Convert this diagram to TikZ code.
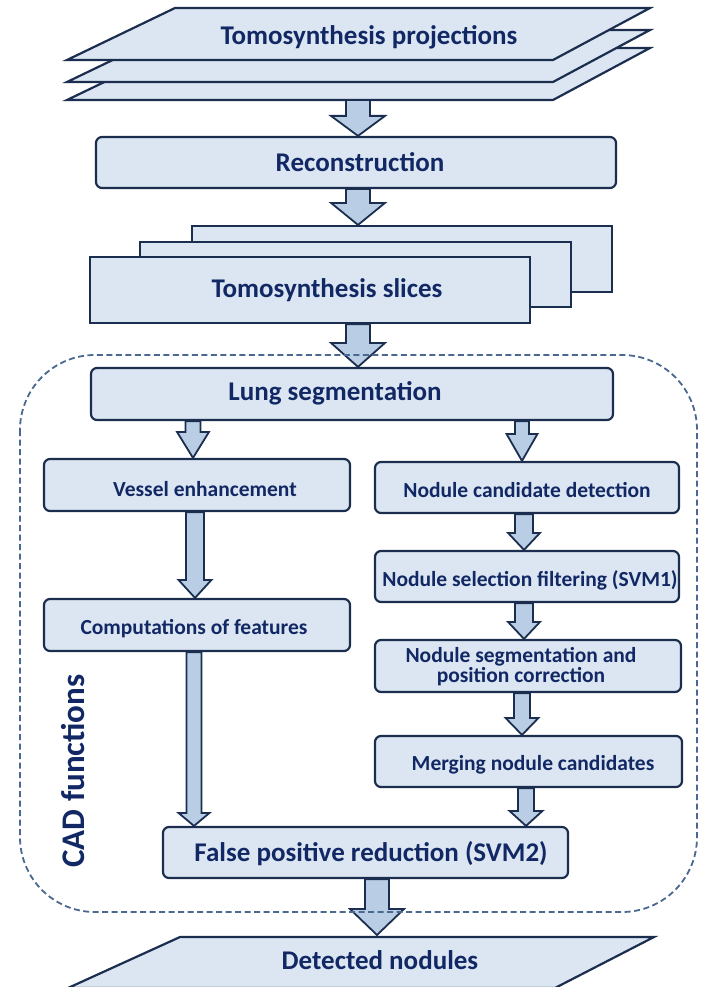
\documentclass[tikz,border=0pt]{standalone}
\usepackage{fontspec}
\setmainfont{Carlito}
\usetikzlibrary{calc}
\definecolor{boxfill}{HTML}{DCE6F2}
\definecolor{arrfill}{HTML}{B9CDE5}
\definecolor{edge}{HTML}{1C2E4F}
\definecolor{txt}{HTML}{112864}
\definecolor{dashc}{HTML}{4A6890}
\newcommand\barr[7]{% #1 from, #2 to, #3 x coord, #4 half shaft, #5 half head, #6 head length, #7 name
  \draw[barrow] ($(#1 -| #3)+(-#4,0)$) -- ($(#1 -| #3)+(#4,0)$) -- ($(#2 -| #3)+(#4,-#6)$)
   -- ($(#2 -| #3)+(#5,-#6)$) -- (#2 -| #3) -- ($(#2 -| #3)+(-#5,-#6)$) -- ($(#2 -| #3)+(-#4,-#6)$) -- cycle;}
\begin{document}
\begin{tikzpicture}[x=1pt,y=-1pt,
  box/.style={draw=edge, fill=boxfill, line width=2.2pt, rounded corners=6pt, inner sep=0pt},
  sqbox/.style={draw=edge, fill=boxfill, line width=2.2pt, inner sep=0pt},
  plg/.style={draw=edge, fill=boxfill, line width=2.2pt, line join=miter},
  barrow/.style={draw=edge, fill=arrfill, line width=1.8pt, line join=miter},
  big/.style={font=\bfseries\fontsize{27}{30}\selectfont, text=txt, inner sep=0pt},
  small/.style={font=\bfseries\fontsize{21.5}{24}\selectfont, text=txt, inner sep=0pt, align=center},
  dashbox/.style={draw=dashc, line width=1.8pt, dash pattern=on 6pt off 3.5pt, rounded corners=75pt},
]
\clip (0,0) rectangle (706,987);
% top stack of projections
\foreach \s in {40,22,0}{
  \draw[plg] (175,8+\s) -- (650,8+\s) -- (553,60+\s) -- (67,60+\s) -- cycle;
}
\node[big] (projt) at (369,37) {Tomosynthesis projections};
\coordinate (stackb) at (358,100);
% x positions of arrows
\coordinate (xm) at (358,0);
\coordinate (xl1) at (193,0);
\coordinate (xr1) at (522,0);
\coordinate (xl2) at (195,0);
\coordinate (xr2) at (524,0);
\coordinate (xr3) at (522,0);
\coordinate (xr4) at (526,0);
\coordinate (xl3) at (194,0);
\coordinate (xb) at (377,0);

% reconstruction
\node[box, minimum width=520, minimum height=51] (recon) at (356,162.5) {};
\node[big] (recont) at (360,162) {Reconstruction};

% slices
\node[sqbox, minimum width=420, minimum height=66] (sl3) at (402,259) {};
\node[sqbox, minimum width=431, minimum height=65] (sl2) at (355.5,274.5) {};
\node[sqbox, minimum width=440, minimum height=66] (sl1) at (310,290) {};
\node[big] (slt) at (327,290) {Tomosynthesis slices};

% CAD box
\node[box, minimum width=522, minimum height=52] (lung) at (352,394) {};
\node[big] (lungt) at (335,393) {Lung segmentation};

\node[box, minimum width=306, minimum height=52] (vessel) at (197,485) {};
\node[small] (vesselt) at (205,489) {Vessel enhancement};
\node[box, minimum width=304, minimum height=51] (ncd) at (527,487.5) {};
\node[small] (ncdt) at (527,490) {Nodule candidate detection};
\node[box, minimum width=304, minimum height=51] (nsf) at (527,576.5) {};
\node[small] (nsft) at (530,580) {Nodule selection filtering (SVM1)};
\node[box, minimum width=306, minimum height=52] (comp) at (197,625) {};
\node[small] (compt) at (194,629) {Computations of features};
\node[box, minimum width=306, minimum height=52] (nspc) at (528,666) {};
\node[small] (nspct) at (521,667) {Nodule segmentation and\\[-4pt]position correction};
\node[box, minimum width=307, minimum height=51] (merge) at (528.5,761.5) {};
\node[small] (merget) at (533,765) {Merging nodule candidates};
\node[box, minimum width=405, minimum height=51] (fpr) at (365.5,852.5) {};
\node[big] (fprt) at (371,854) {False positive reduction (SVM2)};

% detected nodules
\draw[plg] (180,937) -- (654,937) -- (555,988) -- (68,988) -- cycle;
\coordinate (dettop) at (377,935);
\node[big] (dett) at (380,960) {Detected nodules};

% block arrows
\barr{stackb}{recon.north}{xm}{12}{27}{20}{a1}
\barr{recon.south}{sl3.north}{xm}{12}{27}{22}{a2}
\barr{sl1.south}{lung.north}{xm}{12}{27}{24}{a3}
\barr{lung.south}{vessel.north}{xl1}{7.5}{16}{26}{a4}
\barr{lung.south}{ncd.north}{xr1}{7}{15.5}{27}{a5}
\barr{vessel.south}{comp.north}{xl2}{9}{16.5}{18}{a6}
\barr{ncd.south}{nsf.north}{xr2}{9}{16}{17}{a7}
\barr{nsf.south}{nspc.north}{xr2}{9}{16}{17}{a8}
\barr{nspc.south}{merge.north}{xr3}{8}{16.5}{17}{a9}
\barr{merge.south}{fpr.north}{xr4}{8}{16.5}{15}{a10}
\barr{comp.south}{fpr.north}{xl3}{7.5}{15.5}{13}{a11}
\barr{fpr.south}{dettop}{xb}{12}{27}{26}{a12}

% dashed CAD region
\draw[dashbox] (20,355) rectangle (697,912);
\node[font=\bfseries\fontsize{33}{36}\selectfont, text=txt, rotate=90, inner sep=0pt] (cad) at (73,771) {CAD functions};
\end{tikzpicture}
\end{document}
